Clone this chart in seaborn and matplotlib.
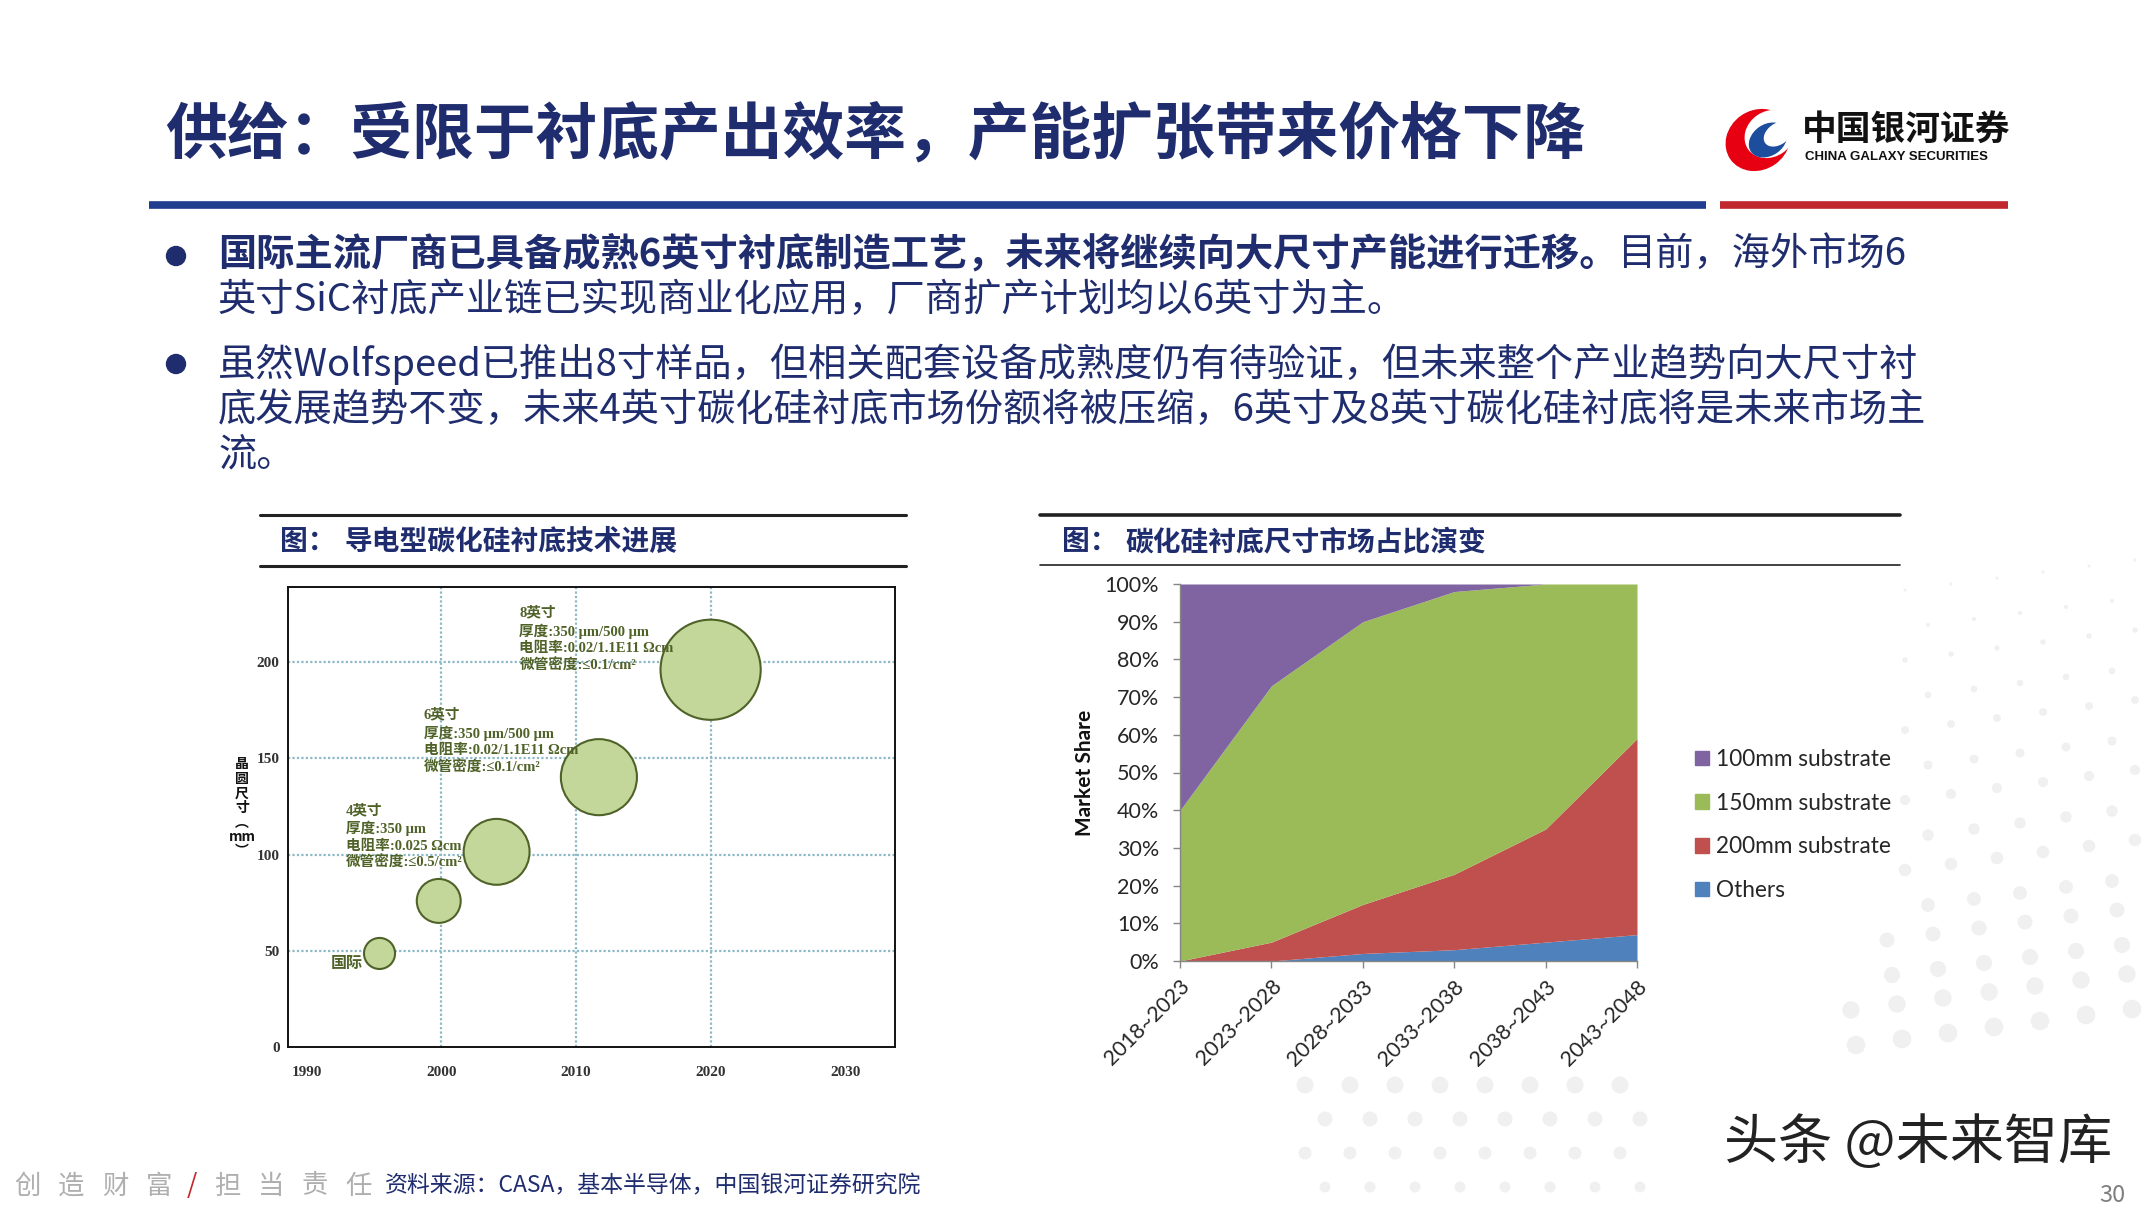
import numpy as np
import pandas as pd
import matplotlib.pyplot as plt
import matplotlib.patches as mpatches
import seaborn as sns

# ---- left chart: conductive SiC substrate roadmap (bubble chart) ----
years = [1995.4, 1999.8, 2004.1, 2011.7, 2020.0]
wafer_mm = [48.6, 75.9, 101.4, 140.2, 196.0]
bubble_area = [500, 1000, 2250, 3000, 5200]
year_ticks = [1990, 2000, 2010, 2020, 2030]
mm_ticks = [0, 50, 100, 150, 200]
note_8in = "8英寸\n厚度:350 μm/500 μm\n电阻率:0.02/1.1E11 Ωcm\n微管密度:≤0.1/cm²"
note_6in = "6英寸\n厚度:350 μm/500 μm\n电阻率:0.02/1.1E11 Ωcm\n微管密度:≤0.1/cm²"
note_4in = "4英寸\n厚度:350 μm\n电阻率:0.025 Ωcm\n微管密度:≤0.5/cm²"

# ---- right chart: substrate size market share (stacked area) ----
periods = ['2018~2023', '2023~2028', '2028~2033', '2033~2038', '2038~2043', '2043~2048']
share_others = [0, 0, 2, 3, 5, 7]
share_200mm = [0, 5, 13, 20, 30, 52]
share_150mm = [40, 68, 75, 75, 65, 41]
share_100mm = [60, 27, 10, 2, 0, 0]
series_names = ['100mm substrate', '150mm substrate', '200mm substrate', 'Others']

title = "供给：受限于衬底产出效率，产能扩张带来价格下降"
b1_bold = "国际主流厂商已具备成熟6英寸衬底制造工艺，未来将继续向大尺寸产能进行迁移。"
b1_rest = "目前，海外市场6"
b1_line2 = "英寸SiC衬底产业链已实现商业化应用，厂商扩产计划均以6英寸为主。"
b2_lines = ["虽然Wolfspeed已推出8寸样品，但相关配套设备成熟度仍有待验证，但未来整个产业趋势向大尺寸衬",
            "底发展趋势不变，未来4英寸碳化硅衬底市场份额将被压缩，6英寸及8英寸碳化硅衬底将是未来市场主",
            "流。"]

sns.set_theme(style='white')
plt.rcParams['font.family'] = ['Noto Sans CJK SC', 'DejaVu Sans']
plt.rcParams['axes.unicode_minus'] = False

NAVY = '#1F2D6E'
W, H = 2155, 1212
fig = plt.figure(figsize=(W / 100, H / 100), dpi=100)
fig.patch.set_facecolor('white')

# overlay in pixel coordinates for slide decorations
ax0 = fig.add_axes([0, 0, 1, 1])
ax0.set_xlim(0, W)
ax0.set_ylim(H, 0)
ax0.axis('off')

# faint halftone dots (slide background decoration)
dot_x, dot_y, dot_s = [], [], []
for r in range(14):
    yr = 590 + 35 * r
    rad = 1.5 + 0.6 * r
    x_start = 1905 - max(0, r - 9) * 18
    for c in range(7):
        x = x_start + c * 46 + (r % 2) * 23
        if x < W:
            dot_x.append(x)
            dot_y.append(yr - c * 6)
            dot_s.append((1.44 * rad) ** 2)
for r in range(4):
    for c in range(8):
        dot_x.append(1305 + c * 45 + (r % 2) * 20)
        dot_y.append(1085 + 34 * r)
        dot_s.append((1.44 * (8.5 - r)) ** 2)
ax0.scatter(dot_x, dot_y, s=dot_s, color='#F0F0F0', lw=0, zorder=0)

# title + rules
ax0.text(165, 135, title, fontsize=44.5, weight='heavy', color=NAVY, va='center', ha='left')
ax0.plot([149, 1706], [205, 205], color='#1F3C8E', lw=5.5, solid_capstyle='butt')
ax0.plot([1720, 2008], [205, 205], color='#C0282D', lw=5.5, solid_capstyle='butt')

# logo
ax0.add_patch(mpatches.Ellipse((1758, 140), 66, 58, angle=-35, color='#E60012'))
ax0.add_patch(mpatches.Ellipse((1770, 134), 52, 44, angle=-35, color='white'))
ax0.add_patch(mpatches.Ellipse((1768, 140), 40, 30, angle=-35, color='#1D4E9E'))
ax0.add_patch(mpatches.Ellipse((1778, 134), 30, 20, angle=-35, color='white'))
ax0.text(1802, 129, "中国银河证券", fontsize=25, weight='bold', color='#111111', va='center', ha='left')
ax0.text(1805, 157, "CHINA GALAXY SECURITIES", fontsize=9.5, weight='bold', color='#111111',
         va='center', ha='left', family=['Liberation Sans Narrow', 'Liberation Sans'])

# bullets
r = fig.canvas.get_renderer()
for y in [256, 364]:
    ax0.add_patch(mpatches.Circle((176, y), 9.5, color=NAVY))
t1 = ax0.text(218, 254, b1_bold, fontsize=27.5, weight='bold', color=NAVY, va='center', ha='left')
bb = t1.get_window_extent(renderer=r)
ax0.text(bb.x1, 254, b1_rest, fontsize=27.5, color=NAVY, va='center', ha='left')
ax0.text(218, 300, b1_line2, fontsize=27.5, color=NAVY, va='center', ha='left')
for y, line in zip([364, 410, 456], b2_lines):
    ax0.text(218, y, line, fontsize=27.5, color=NAVY, va='center', ha='left')

# section headers
ax0.plot([260, 906], [515, 515], color='#222222', lw=2.2)
ax0.plot([260, 906], [566, 566], color='#222222', lw=2.2)
ax0.text(280, 542, "图：", fontsize=20, weight='bold', color=NAVY, va='center')
ax0.text(345, 542, "导电型碳化硅衬底技术进展", fontsize=20, weight='bold', color=NAVY, va='center')
ax0.plot([1040, 1900], [515, 515], color='#222222', lw=2.6)
ax0.plot([1040, 1900], [565, 565], color='#222222', lw=1.2)
ax0.text(1062, 542, "图：", fontsize=20, weight='bold', color=NAVY, va='center')
ax0.text(1125, 542, "碳化硅衬底尺寸市场占比演变", fontsize=20, weight='bold', color=NAVY, va='center')

# left chart y label (stacked vertical)
ax0.text(242, 808, "晶\n圆\n尺\n寸\n︵\nmm\n︶", fontsize=10, weight='bold', color='#111111',
         ha='center', va='center', linespacing=1.05)

# footer
for i, ch in enumerate("创造财富"):
    ax0.text(27 + i * 44, 1186, ch, fontsize=19, color='#AFAFAF', ha='center', va='center')
ax0.text(192, 1186, "/", fontsize=19, color='#C0282D', ha='center', va='center')
for i, ch in enumerate("担当责任"):
    ax0.text(227 + i * 44, 1186, ch, fontsize=19, color='#AFAFAF', ha='center', va='center')
ax0.text(385, 1186, "资料来源：CASA，基本半导体，中国银河证券研究院", fontsize=16.5, color=NAVY,
         ha='left', va='center')
ax0.text(1724, 1143, "头条 @未来智库", fontsize=39, color='#222222', ha='left', va='center')
ax0.text(2112, 1195, "30", fontsize=17, color='#7F7F7F', ha='center', va='center')

# ---- left chart ----
ax1 = fig.add_axes([288 / W, 1 - 1047 / H, 607 / W, 460 / H])
ax1.set_facecolor('white')
for v in year_ticks[1:-1]:
    ax1.axvline(v, color='#8CB8C8', ls=(0, (1, 1)), lw=1.6, zorder=1)
for v in mm_ticks[1:]:
    ax1.axhline(v, color='#8CB8C8', ls=(0, (1, 1)), lw=1.6, zorder=1)
bub = pd.DataFrame({'year': years, 'mm': wafer_mm, 'area': bubble_area})
sns.scatterplot(data=bub, x='year', y='mm', size='area', sizes=(500, 5200), size_norm=(500, 5200),
                color='#C4D79B', edgecolor='#4F6228', linewidth=1.5, alpha=1, legend=False,
                ax=ax1, zorder=3)
ax1.set_xlim(1988.6, 2033.7)
ax1.set_ylim(0, 239)
ax1.set_xticks(year_ticks)
ax1.set_yticks(mm_ticks)
ax1.set_xlabel('')
ax1.set_ylabel('')
serif = ['Liberation Serif', 'Noto Sans CJK SC']
for lab in ax1.get_xticklabels() + ax1.get_yticklabels():
    lab.set_family(serif)
    lab.set_weight('bold')
    lab.set_fontsize(11)
    lab.set_color('#333333')
ax1.tick_params(axis='both', length=0)
ax1.tick_params(axis='x', pad=14)
ax1.tick_params(axis='y', pad=6)
for s in ax1.spines.values():
    s.set_visible(True)
    s.set_color('#111111')
    s.set_linewidth(1.4)

note_kw = dict(fontsize=10.5, weight='bold', color='#4F6228', family=serif, ha='left', va='top',
               linespacing=1.3, zorder=4)
ax1.text(2005.8, 229, note_8in, **note_kw)
ax1.text(1998.7, 176, note_6in, **note_kw)
ax1.text(1992.9, 126.5, note_4in, **note_kw)
ax1.text(1991.8, 43.4, "国际", fontsize=11.5, weight='bold', color='#4F6228', ha='left', va='center',
         zorder=4)

# ---- right chart ----
ax2 = fig.add_axes([1180 / W, 1 - 961 / H, 457 / W, 377 / H])
colors = {'100mm substrate': '#8064A2', '150mm substrate': '#9BBB59',
          '200mm substrate': '#C0504D', 'Others': '#4F81BD'}
xs = np.arange(len(periods))
ax2.stackplot(xs, share_others, share_200mm, share_150mm, share_100mm,
              colors=[colors['Others'], colors['200mm substrate'], colors['150mm substrate'],
                      colors['100mm substrate']], lw=0)
ax2.set_xlim(0, len(periods) - 1)
ax2.set_ylim(0, 100)
ax2.set_yticks(range(0, 101, 10))
ax2.set_yticklabels([f'{v}%' for v in range(0, 101, 10)])
ax2.set_xticks(xs)
ax2.set_xticklabels(periods, rotation=45, ha='right', rotation_mode='anchor')
lato = ['Lato', 'DejaVu Sans']
for lab in ax2.get_xticklabels() + ax2.get_yticklabels():
    lab.set_family(lato)
    lab.set_fontsize(15.5)
    lab.set_color('#262626')
ax2.tick_params(axis='both', direction='out', length=5, width=1, color='#868686',
                left=True, bottom=True)
ax2.tick_params(axis='x', pad=6)
ax2.tick_params(axis='y', pad=10)
sns.despine(ax=ax2)
for side in ['left', 'bottom']:
    ax2.spines[side].set_color('#868686')
    ax2.spines[side].set_linewidth(1)
ax2.set_ylabel('Market Share', fontsize=15, weight='bold', family=lato, color='#111111', labelpad=7)

handles = [mpatches.Patch(color=colors[n]) for n in series_names]
fig.legend(handles, series_names, loc='center left', bbox_to_anchor=(1695 / W, 1 - 825 / H),
           frameon=False, prop={'family': lato, 'size': 16.3}, handlelength=0.62,
           handleheight=0.62, handletextpad=0.3, labelspacing=1.0, borderpad=0,
           borderaxespad=0, labelcolor='#262626')

fig.savefig('out.png', dpi=100)
